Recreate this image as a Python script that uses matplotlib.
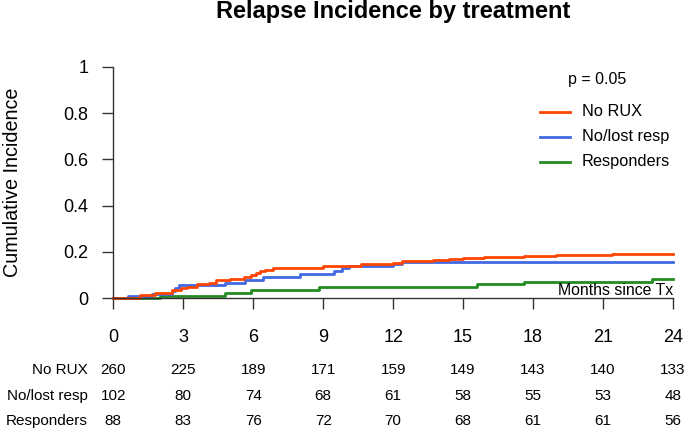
import numpy as np
import matplotlib
matplotlib.use('Agg')
import matplotlib.pyplot as plt
from matplotlib.transforms import blended_transform_factory

plt.rcParams['font.family'] = ['Liberation Sans', 'DejaVu Sans']

# step curves: (start time of step, cumulative incidence)
red_t = [0, 1.14, 1.8, 2.5, 2.9, 3.14, 3.57, 4.1, 4.4, 5.0, 5.6, 5.9, 6.1, 6.3, 6.5, 6.85,
         9.0, 10.6, 12.0, 12.4, 13.7, 14.4, 15.0, 15.9, 17.6, 19.0, 21.4]
red_v = [0, 0.014, 0.024, 0.035, 0.043, 0.05, 0.06, 0.068, 0.077, 0.085, 0.093, 0.1, 0.11,
         0.118, 0.124, 0.132, 0.14, 0.147, 0.153, 0.16, 0.164, 0.169, 0.174, 0.177, 0.181,
         0.186, 0.19]
blue_t = [0, 0.64, 1.64, 2.5, 2.65, 2.8, 4.8, 5.64, 6.4, 8.0, 9.45, 9.8, 10.1, 12.0, 12.4]
blue_v = [0, 0.01, 0.019, 0.033, 0.045, 0.058, 0.068, 0.08, 0.092, 0.103, 0.118, 0.13, 0.14,
          0.147, 0.157]
green_t = [0, 2.0, 4.8, 5.9, 8.8, 15.6, 17.6, 23.1]
green_v = [0, 0.012, 0.024, 0.036, 0.047, 0.06, 0.069, 0.082]

groups = ['No RUX', 'No/lost resp', 'Responders']
colors = ['#FF4500', '#4169E1', '#228B22']

risk_times = [0, 3, 6, 9, 12, 15, 18, 21, 24]
risk_no_rux = [260, 225, 189, 171, 159, 149, 143, 140, 133]
risk_lost = [102, 80, 74, 68, 61, 58, 55, 53, 48]
risk_resp = [88, 83, 76, 72, 70, 68, 61, 61, 56]

t_end = 24

fig = plt.figure(figsize=(6.85, 4.28), dpi=100)
ax = fig.add_axes([113.3 / 685, 1 - 298.3 / 428, (673 - 113.3) / 685, (298.3 - 66.7) / 428])

curves = [(red_t, red_v), (blue_t, blue_v), (green_t, green_v)]
# green first so the others sit on top like the original
for i in [2, 1, 0]:
    t, v = curves[i]
    ax.step(t + [t_end], v + [v[-1]], where='post', color=colors[i], lw=2, label=groups[i],
            clip_on=False)

ax.set_xlim(0, 24)
ax.set_ylim(0, 1)
ax.set_xticks(risk_times)
ax.set_yticks([0, 0.2, 0.4, 0.6, 0.8, 1])
ax.set_yticklabels(['0', '0.2', '0.4', '0.6', '0.8', '1'])
for s in ['top', 'right']:
    ax.spines[s].set_visible(False)
ax.spines['left'].set_bounds(0, 1)
ax.spines['bottom'].set_bounds(0, 24)
for s in ['left', 'bottom']:
    ax.spines[s].set_color('#333333')
    ax.spines[s].set_linewidth(1)
ax.tick_params(axis='x', length=8, width=1, color='#333333', labelsize=13, pad=14)
ax.tick_params(axis='y', length=8, width=1, color='#333333', labelsize=13, pad=10)

ax.text(24, 0.035, 'Months since Tx', ha='right', va='center', fontsize=11.4)

# legend and p value drawn by hand
ax.text(0.865, 0.943, 'p = 0.05', transform=ax.transAxes, ha='center', va='center', fontsize=11.5)
leg_y = [0.805, 0.697, 0.589]
for i in range(3):
    ax.plot([0.762, 0.816], [leg_y[i], leg_y[i]], transform=ax.transAxes, color=colors[i], lw=2)
    ax.text(0.837, leg_y[i], groups[i], transform=ax.transAxes, ha='left', va='center',
            fontsize=11.8)

fig.text(0.574, 0.972, 'Relapse Incidence by treatment', ha='center', va='center',
         fontsize=17, fontweight='bold')
fig.text(13 / 685, 1 - 182.5 / 428, 'Cumulative Incidence', rotation=90, ha='center',
         va='center', fontsize=14.2)

# numbers at risk
trans = blended_transform_factory(ax.transData, fig.transFigure)
rows = [risk_no_rux, risk_lost, risk_resp]
row_y = [1 - 370 / 428, 1 - 396 / 428, 1 - 421 / 428]
for i in range(3):
    fig.text(87.5 / 685, row_y[i], groups[i], ha='right', va='center', fontsize=11)
    for t, n in zip(risk_times, rows[i]):
        ax.text(t, row_y[i], str(n), transform=trans, ha='center', va='center', fontsize=11)

fig.savefig('out.png', dpi=100)
